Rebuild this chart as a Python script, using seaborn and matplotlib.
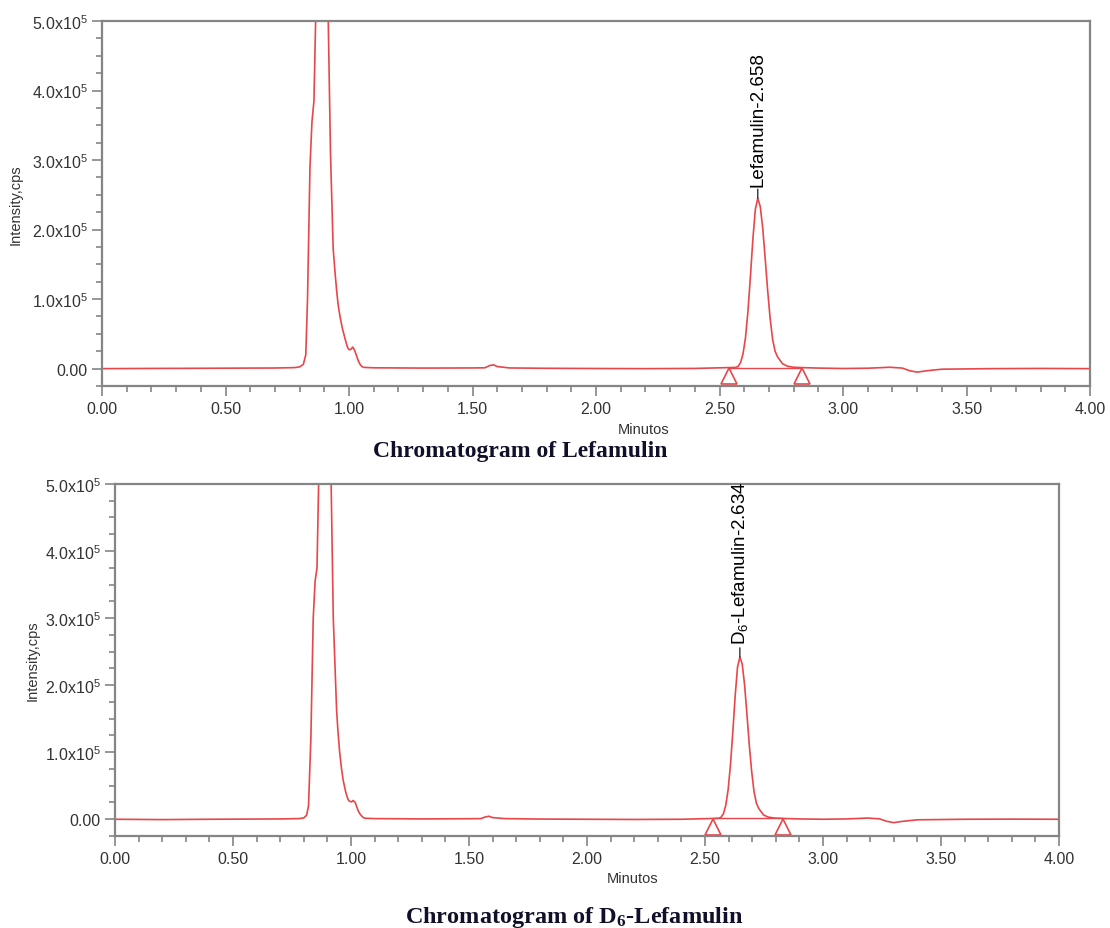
import numpy as np
import pandas as pd
import matplotlib
matplotlib.use('Agg')
import matplotlib.pyplot as plt
import matplotlib.transforms as mtransforms
from matplotlib.ticker import MultipleLocator, FormatStrFormatter
import seaborn as sns

# top chromatogram (Lefamulin), minutes / cps
top_time = [0.00, 0.20, 0.40, 0.60, 0.70, 0.78, 0.80, 0.815, 0.825, 0.832, 0.842, 0.850, 0.858,
            0.866, 0.890, 0.915, 0.925, 0.936, 0.943, 0.950, 0.956, 0.963, 0.973, 0.984, 0.990,
            0.996, 1.002, 1.008, 1.015, 1.022, 1.030, 1.038, 1.045, 1.052, 1.060, 1.100, 1.300,
            1.500, 1.550, 1.570, 1.585, 1.600, 1.650, 1.800, 2.000, 2.200, 2.400, 2.538, 2.565,
            2.575, 2.585, 2.595, 2.605, 2.615, 2.625, 2.635, 2.645, 2.655, 2.665, 2.675, 2.685,
            2.695, 2.705, 2.715, 2.725, 2.735, 2.755, 2.775, 2.800, 2.834, 2.900, 3.000, 3.100,
            3.190, 3.240, 3.270, 3.300, 3.340, 3.400, 3.600, 3.800, 4.000]
top_cps = [0, 300, 500, 800, 900, 1500, 2500, 6000, 20000, 100000, 290000, 355000, 385000,
           520000, 950000, 520000, 310000, 172000, 140000, 112000, 92000, 76000, 58000, 43000, 35000,
           29000, 27000, 28000, 31000, 27000, 19000, 11000, 6000, 3000, 1800, 1200, 800,
           1000, 1200, 4500, 5500, 3000, 1000, 500, 200, 0, 300, 1500, 1800,
           3000, 8500, 21000, 44000, 82000, 132000, 186000, 229000, 245000, 233000, 202000, 158000,
           112000, 72000, 42000, 25000, 17000, 7000, 3500, 2000, 1500, 800, 200, 600,
           2000, 800, -3000, -5000, -3000, -800, 0, 300, 0]

# bottom chromatogram (D6-Lefamulin)
bot_time = [0.00, 0.20, 0.40, 0.60, 0.70, 0.78, 0.80, 0.812, 0.820, 0.830, 0.840, 0.848, 0.856,
            0.864, 0.890, 0.915, 0.925, 0.939, 0.945, 0.952, 0.960, 0.967, 0.978, 0.988, 0.996,
            1.003, 1.009, 1.018, 1.024, 1.030, 1.038, 1.045, 1.052, 1.060, 1.100, 1.300, 1.500,
            1.550, 1.570, 1.585, 1.600, 1.650, 1.800, 2.000, 2.200, 2.400, 2.534, 2.558, 2.568,
            2.578, 2.588, 2.598, 2.608, 2.618, 2.628, 2.638, 2.648, 2.658, 2.668, 2.678, 2.688,
            2.698, 2.708, 2.718, 2.728, 2.748, 2.768, 2.795, 2.830, 2.900, 3.000, 3.100, 3.190,
            3.240, 3.270, 3.300, 3.340, 3.400, 3.600, 3.800, 4.000]
bot_cps = [0, -500, 0, 300, 500, 1000, 2000, 6000, 20000, 120000, 300000, 355000, 375000,
           520000, 950000, 520000, 300000, 163000, 130000, 100000, 75000, 58000, 40000, 29000, 26500,
           26000, 28000, 25000, 19000, 13000, 8000, 5000, 2500, 1500, 1000, 500, 800,
           1000, 3500, 4500, 2500, 1000, 300, 0, -300, 0, 1200, 1500, 3000,
           8000, 20500, 43500, 81000, 130000, 184000, 227000, 242000, 231000, 200000, 156000, 110000,
           71000, 41000, 24000, 16000, 6500, 3200, 1800, 1200, 500, 0, 500, 1800,
           600, -3000, -5000, -3000, -800, 0, 200, 0]

top_label = 'Lefamulin-2.658'
top_apex = [2.655, 245000]
top_marks = [2.538, 2.834]
top_marks_cps = [1500, 1500]

bot_label = r'D$_6$-Lefamulin-2.634'
bot_apex = [2.648, 242000]
bot_marks = [2.534, 2.830]
bot_marks_cps = [1200, 1200]

ytick_vals = [0, 100000, 200000, 300000, 400000, 500000]
ytick_labels = ['0.00', r'1.0x10$^5$', r'2.0x10$^5$', r'3.0x10$^5$', r'4.0x10$^5$', r'5.0x10$^5$']

sns.set_style('white')
plt.rcParams['font.family'] = ['Liberation Sans', 'DejaVu Sans']
plt.rcParams['mathtext.fontset'] = 'custom'
plt.rcParams['mathtext.rm'] = 'Liberation Sans'
plt.rcParams['mathtext.it'] = 'Liberation Sans:italic'
plt.rcParams['mathtext.bf'] = 'Liberation Serif:bold'

red = '#e8464a'
grey = '#858585'

fig = plt.figure(figsize=(11.1, 9.29), dpi=100)
ax1 = fig.add_axes([0.0919, 0.5834, 0.8901, 0.3929])
ax2 = fig.add_axes([0.1036, 0.0990, 0.8504, 0.3790])


def draw_panel(ax, t, cps, label, apex, marks, marks_cps):
    df = pd.DataFrame({'Minutes': t, 'cps': cps})
    sns.lineplot(data=df, x='Minutes', y='cps', ax=ax, color=red, lw=1.2,
                 estimator=None, sort=False)
    # integration baseline and start/end triangles
    ax.plot(marks, marks_cps, color=red, lw=1.0)
    tri = mtransforms.offset_copy(ax.transData, fig=fig, y=-5.5, units='points')
    ax.plot(marks, [0, 0], ls='none', marker='^', ms=11, mfc='none', mec=red,
            mew=1.2, transform=tri, clip_on=False)
    ax.annotate(label, xy=(apex[0], apex[1]), xytext=(0, 9), textcoords='offset points',
                rotation=90, ha='center', va='bottom', fontsize=13.5, color='black',
                arrowprops=dict(arrowstyle='-', color='black', lw=0.8, shrinkA=0, shrinkB=0))

    ax.set_xlim(0, 4)
    ax.set_ylim(-25000, 500000)
    ax.xaxis.set_major_locator(MultipleLocator(0.5))
    ax.xaxis.set_minor_locator(MultipleLocator(0.1))
    ax.xaxis.set_major_formatter(FormatStrFormatter('%.2f'))
    ax.set_yticks(ytick_vals)
    ax.set_yticklabels(ytick_labels)
    ax.yaxis.set_minor_locator(MultipleLocator(25000))
    ax.tick_params(which='both', direction='out', color=grey, width=1.2,
                   labelsize=11.5, labelcolor='#333333', bottom=True, left=True)
    ax.tick_params(which='major', length=7)
    ax.tick_params(which='minor', length=4)
    for sp in ax.spines.values():
        sp.set_color(grey)
        sp.set_linewidth(1.6)
    ax.set_xlabel('Minutos', fontsize=10.5, color='#333333')
    ax.set_ylabel('Intensity,cps', fontsize=10.5, color='#333333')
    ax.xaxis.set_label_coords(0.548, -0.099)
    ax.yaxis.set_label_coords(-0.080, 0.5)


draw_panel(ax1, top_time, top_cps, top_label, top_apex, top_marks, top_marks_cps)
draw_panel(ax2, bot_time, bot_cps, bot_label, bot_apex, bot_marks, bot_marks_cps)

fig.text(0.4685, 1 - 451 / 929, 'Chromatogram of Lefamulin', ha='center', va='center',
         fontsize=17, fontweight='bold', family='Liberation Serif', color='#10102a')
fig.text(0.517, 1 - 918 / 929, r'Chromatogram of D$_\mathbf{6}$-Lefamulin', ha='center',
         va='center', fontsize=17.5, fontweight='bold', family='Liberation Serif', color='#10102a')

fig.savefig('out.png', dpi=100)
